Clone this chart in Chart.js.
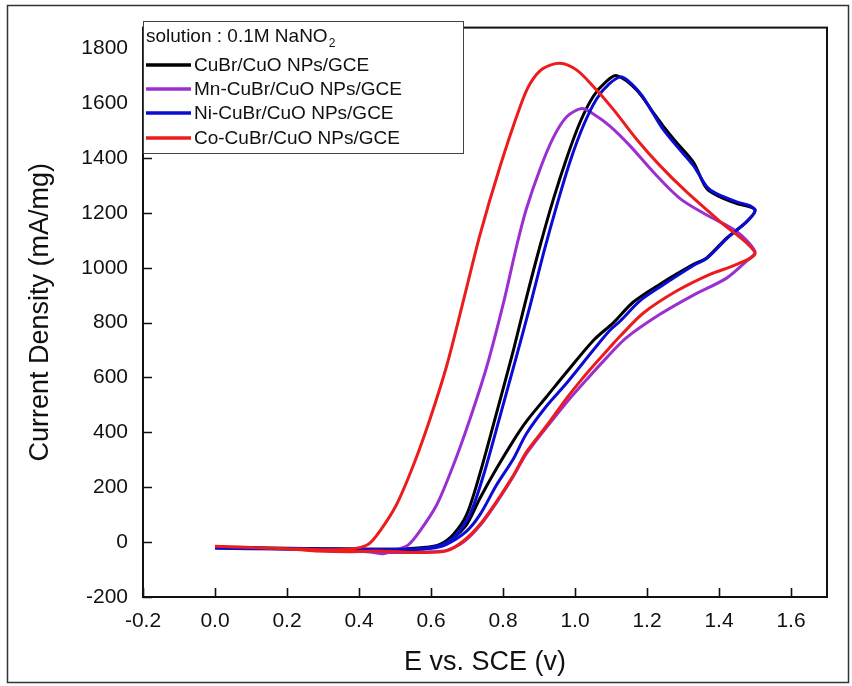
<!DOCTYPE html>
<html>
<head>
<meta charset="utf-8">
<script src="https://cdn.jsdelivr.net/npm/chart.js@4.4.0/dist/chart.umd.min.js"></script>
<style>
  html, body { margin: 0; padding: 0; background: #fff; }
</style>
</head>
<body>
<canvas id="cv" width="852" height="686"></canvas>
<script>
// legend text and series names
const legendTitle = 'solution : 0.1M NaNO';
const legendTitleSub = '2';
const seriesNames = ['CuBr/CuO NPs/GCE', 'Mn-CuBr/CuO NPs/GCE', 'Ni-CuBr/CuO NPs/GCE', 'Co-CuBr/CuO NPs/GCE'];

// tick labels
const xTickValues = [-0.2, 0.0, 0.2, 0.4, 0.6, 0.8, 1.0, 1.2, 1.4, 1.6];
const yTickValues = [-200, 0, 200, 400, 600, 800, 1000, 1200, 1400, 1600, 1800];

// CuBr/CuO (black): forward scan then reverse scan
const blackE = [0.0, 0.1, 0.2, 0.3, 0.4, 0.5, 0.58, 0.625, 0.662, 0.699, 0.736, 0.782, 0.829, 0.865, 0.921, 0.977, 1.051, 1.107, 1.162, 1.236, 1.329, 1.366, 1.421, 1.477, 1.5,
                1.449, 1.403, 1.366, 1.329, 1.282, 1.245, 1.218, 1.171, 1.116, 1.088, 1.051, 1.014, 0.977, 0.94, 0.903, 0.865, 0.829, 0.782, 0.736, 0.699, 0.662, 0.625, 0.58, 0.5, 0.4, 0.3, 0.2, 0.1, 0.0];
const blackI = [-18, -22, -24, -26, -27, -28, -25, -14, 16, 64, 160, 268, 370, 440, 530, 620, 735, 800, 875, 940, 1012, 1036, 1108, 1168, 1212,
                1234, 1258, 1288, 1384, 1456, 1516, 1564, 1648, 1700, 1680, 1625, 1530, 1400, 1250, 1080, 890, 700, 470, 250, 100, 28, -8, -20, -26, -25, -24, -22, -20, -18];

// Mn-CuBr/CuO (purple)
const purpleE = [0.0, 0.1, 0.2, 0.3, 0.4, 0.5, 0.6, 0.643, 0.69, 0.736, 0.782, 0.829, 0.865, 0.921, 0.977, 1.032, 1.09, 1.143, 1.236, 1.329, 1.421, 1.477, 1.5,
                 1.449, 1.366, 1.292, 1.218, 1.153, 1.097, 1.051, 1.019, 0.977, 0.94, 0.903, 0.865, 0.838, 0.801, 0.755, 0.708, 0.662, 0.616, 0.569, 0.537, 0.5, 0.468, 0.43, 0.35, 0.25, 0.15, 0.05, 0.0];
const purpleI = [-20, -22, -24, -28, -32, -38, -35, -30, 0, 60, 144, 240, 322, 418, 510, 592, 675, 745, 830, 900, 962, 1025, 1058,
                 1132, 1192, 1252, 1348, 1444, 1516, 1560, 1580, 1550, 1475, 1360, 1215, 1080, 870, 640, 448, 280, 136, 40, -10, -30, -42, -36, -30, -26, -24, -22, -20];

// Ni-CuBr/CuO (blue)
const blueE = [0.0, 0.1, 0.2, 0.3, 0.4, 0.5, 0.6, 0.643, 0.699, 0.736, 0.782, 0.829, 0.865, 0.921, 0.977, 1.051, 1.097, 1.125, 1.181, 1.236, 1.329, 1.366, 1.421, 1.477, 1.5,
               1.485, 1.449, 1.393, 1.366, 1.329, 1.282, 1.245, 1.218, 1.181, 1.13, 1.095, 1.06, 1.024, 0.987, 0.95, 0.912, 0.875, 0.838, 0.792, 0.745, 0.708, 0.671, 0.634, 0.58, 0.5, 0.4, 0.3, 0.2, 0.1, 0.0];
const blueI = [-22, -24, -25, -26, -26, -26, -22, -8, 40, 100, 208, 304, 395, 496, 580, 700, 772, 805, 880, 930, 1008, 1034, 1105, 1168, 1206,
               1226, 1240, 1270, 1295, 1372, 1444, 1504, 1560, 1636, 1695, 1670, 1615, 1520, 1390, 1230, 1050, 860, 680, 460, 240, 100, 28, -8, -22, -26, -26, -25, -24, -23, -22];

// Co-CuBr/CuO (red)
const redE = [0.0, 0.1, 0.2, 0.28, 0.375, 0.45, 0.52, 0.569, 0.643, 0.69, 0.736, 0.782, 0.829, 0.865, 0.921, 0.977, 1.023, 1.051, 1.097, 1.125, 1.19, 1.282, 1.375, 1.449, 1.5,
              1.403, 1.31, 1.236, 1.171, 1.107, 1.051, 1.005, 0.958, 0.91, 0.875, 0.847, 0.792, 0.736, 0.69, 0.643, 0.597, 0.551, 0.504, 0.458, 0.426, 0.38, 0.3, 0.2, 0.1, 0.0];
const redI = [-15, -20, -24, -32, -35, -32, -36, -38, -32, 4, 64, 148, 244, 328, 424, 525, 600, 643, 710, 750, 835, 915, 976, 1012, 1054,
              1168, 1276, 1372, 1468, 1576, 1660, 1720, 1745, 1725, 1670, 1585, 1370, 1120, 880, 640, 448, 280, 136, 40, -8, -25, -28, -24, -20, -15];

function toPoints(es, is) {
    return es.map((e, i) => ({ x: e, y: is[i] }));
}

const box = { left: 143, top: 21, right: 827, bottom: 597 };

const framePlugin = {
    id: 'frame',
    afterDatasetsDraw(chart) {
        const { ctx, chartArea: a, scales } = chart;
        ctx.save();
        ctx.strokeStyle = '#111';
        ctx.lineWidth = 1.6;
        // inward tick marks
        ctx.beginPath();
        xTickValues.forEach(v => {
            const px = Math.round(scales.x.getPixelForValue(v)) + 0.5;
            ctx.moveTo(px, a.bottom);
            ctx.lineTo(px, a.bottom - 9);
        });
        yTickValues.forEach(v => {
            const py = Math.round(scales.y.getPixelForValue(v)) + 0.5;
            ctx.moveTo(a.left, py);
            ctx.lineTo(a.left + 9, py);
        });
        ctx.stroke();
        ctx.lineWidth = 2;
        ctx.strokeRect(a.left, a.top, a.right - a.left, a.bottom - a.top);
        ctx.restore();
    },
    afterDraw(chart) {
        const { ctx } = chart;
        ctx.save();
        // legend box
        const lx = 143, ly = 21, lw = 320, lh = 132;
        ctx.fillStyle = '#fff';
        ctx.fillRect(lx, ly, lw, lh);
        ctx.strokeStyle = '#444';
        ctx.lineWidth = 1;
        ctx.strokeRect(lx + 0.5, ly + 0.5, lw, lh);

        ctx.fillStyle = '#111';
        ctx.textBaseline = 'middle';
        ctx.textAlign = 'left';
        ctx.font = "19px 'Liberation Sans', Arial, sans-serif";
        ctx.fillText(legendTitle, 146, 37);
        const tw = ctx.measureText(legendTitle).width;
        ctx.font = "12px 'Liberation Sans', Arial, sans-serif";
        ctx.fillText(legendTitleSub, 146 + tw + 1, 44);

        const rows = [65, 89, 113, 138];
        chart.data.datasets.forEach((ds, i) => {
            ctx.strokeStyle = ds.borderColor;
            ctx.lineWidth = 3.5;
            ctx.beginPath();
            ctx.moveTo(146, rows[i]);
            ctx.lineTo(191, rows[i]);
            ctx.stroke();
            ctx.font = "19px 'Liberation Sans', Arial, sans-serif";
            ctx.fillStyle = '#111';
            ctx.fillText(ds.label, 194, rows[i] + 1);
        });

        // outer picture frame
        ctx.strokeStyle = '#333';
        ctx.lineWidth = 1.5;
        ctx.strokeRect(7.5, 5.5, 841, 677);
        ctx.restore();
    }
};

Chart.defaults.font.family = "'Liberation Sans', Arial, sans-serif";
Chart.defaults.color = '#111';

const colors = ['#000000', '#9b2fcf', '#0b0bd6', '#ec1c1c'];
const seriesE = [blackE, purpleE, blueE, redE];
const seriesI = [blackI, purpleI, blueI, redI];
const drawOrder = [3, 2, 1, 0];

new Chart(document.getElementById('cv'), {
    type: 'line',
    data: {
        datasets: seriesNames.map((name, i) => ({
            label: name,
            data: toPoints(seriesE[i], seriesI[i]),
            borderColor: colors[i],
            borderWidth: 3,
            pointRadius: 0,
            tension: 0.3,
            fill: false,
            order: drawOrder[i],
        }))
    },
    options: {
        responsive: false,
        animation: false,
        devicePixelRatio: 1,
        layout: { padding: { left: 0, top: box.top, right: 852 - box.right, bottom: 0 } },
        plugins: { legend: { display: false }, tooltip: { enabled: false } },
        scales: {
            x: {
                type: 'linear',
                min: -0.2,
                max: 1.7,
                grid: { display: false, drawTicks: false },
                border: { display: false },
                afterBuildTicks(scale) {
                    scale.ticks = xTickValues.map(v => ({ value: v }));
                },
                afterFit(scale) { scale.height = 686 - box.bottom; },
                ticks: {
                    padding: 12,
                    maxRotation: 0,
                    autoSkip: false,
                    font: { size: 21 },
                    callback: v => v.toFixed(1),
                },
                title: {
                    display: true,
                    text: 'E vs. SCE (v)',
                    font: { size: 27 },
                    padding: { top: 0, bottom: 7 },
                },
            },
            y: {
                type: 'linear',
                min: -200,
                max: 1875,
                grid: { display: false, drawTicks: false },
                border: { display: false },
                afterBuildTicks(scale) {
                    scale.ticks = yTickValues.map(v => ({ value: v }));
                },
                afterFit(scale) { scale.width = box.left; },
                ticks: {
                    padding: 15,
                    autoSkip: false,
                    font: { size: 21 },
                    callback: v => String(v),
                },
                title: {
                    display: true,
                    text: 'Current Density (mA/mg)',
                    font: { size: 27 },
                    padding: { top: 24, bottom: 0 },
                },
            },
        },
    },
    plugins: [framePlugin],
});
</script>
</body>
</html>
